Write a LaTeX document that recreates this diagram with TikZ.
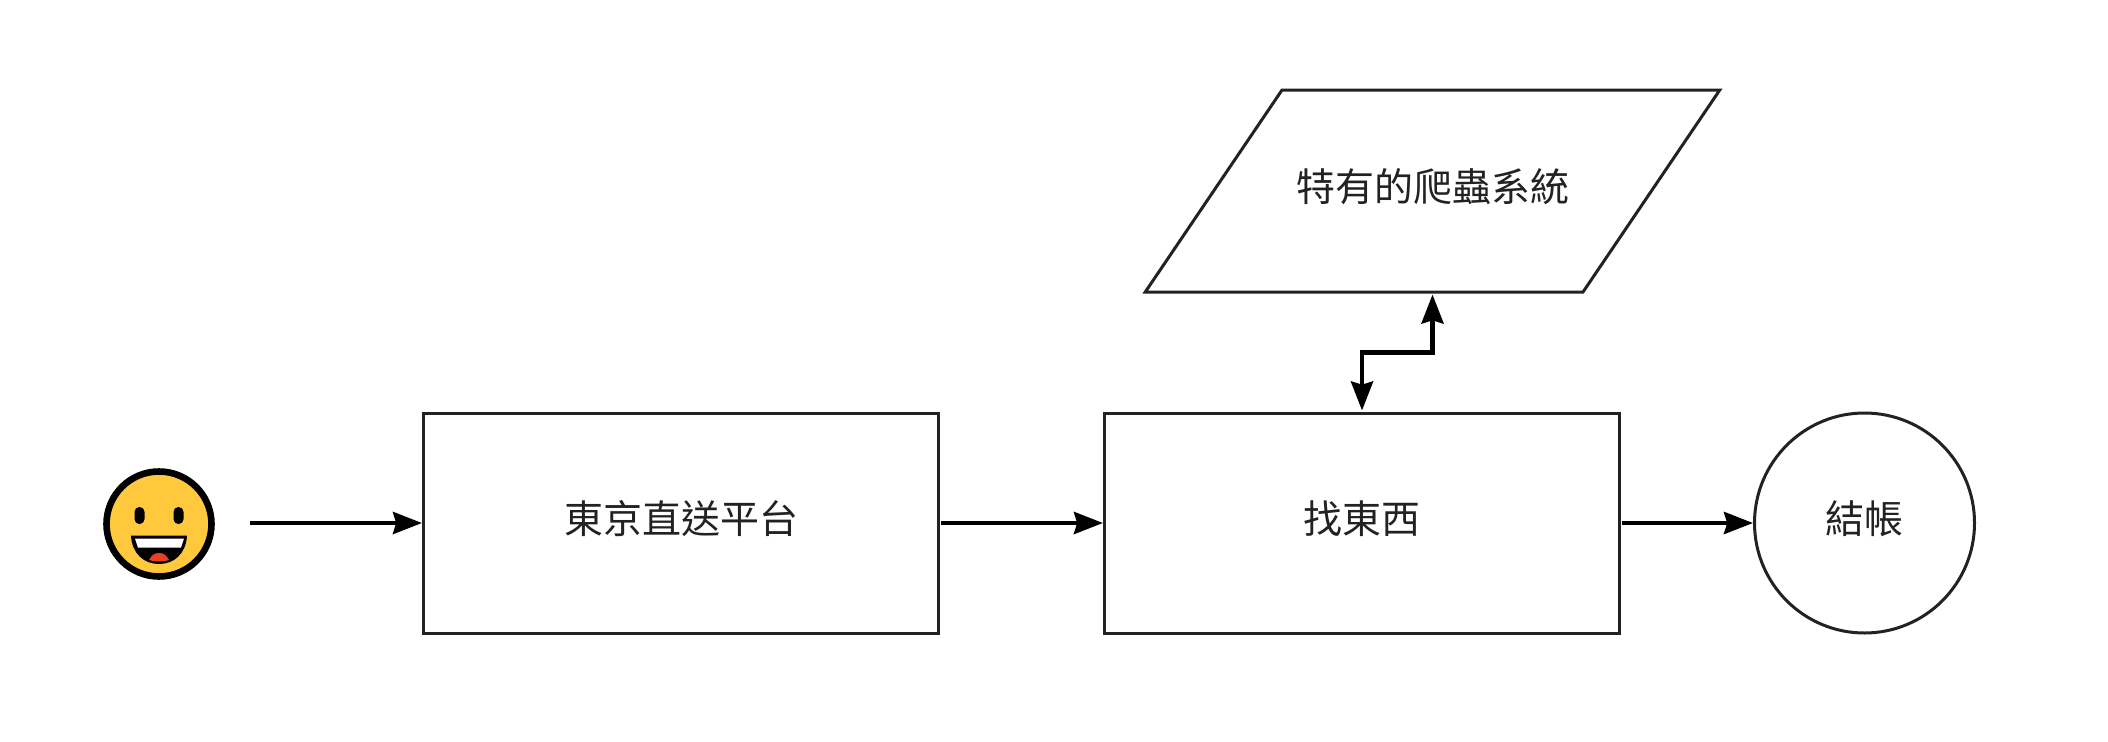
\documentclass[tikz,border=0pt]{standalone}
\usepackage{fontspec}
\setmainfont{Noto Sans CJK TC}
\usepackage{tikz}
\usetikzlibrary{calc}
\usetikzlibrary{arrows.meta}
\usetikzlibrary{shapes.geometric}
\definecolor{facecol}{HTML}{FFC83D}
\definecolor{tonguecol}{HTML}{E8401F}
\definecolor{textcol}{HTML}{222222}
\newcommand{\lab}[1]{\raisebox{-5.4pt}[0pt][0pt]{#1}}

\begin{document}
\begin{tikzpicture}[x=0.5pt,y=0.5pt]
  \tikzset{
    every node/.style={text=textcol, font=\fontsize{19.5}{24}\selectfont},
    box/.style={draw=textcol, rectangle, line width=1.5pt, minimum width=257.5pt, minimum height=110pt, inner sep=0pt},
    crawler/.style={draw=textcol, trapezium, trapezium left angle=55.9, trapezium right angle=124.1, line width=1.5pt, text width=150.5pt, text height=50.5pt, text depth=50.5pt, align=center, inner sep=0pt},
    stop/.style={draw=textcol, circle, line width=1.5pt, minimum size=110pt, inner sep=0pt, node distance=251.25pt},
    headtip/.tip={Stealth[length=14.5pt,width=11pt,inset=1.6pt]},
    line/.style={draw, line width=2.2pt, -headtip, shorten <=0.5pt},
    twoway/.style={line, headtip-headtip, shorten <=0.5pt, shorten >=0.5pt},
  }
  \useasboundingbox (0,0) rectangle (2108,741);
  \node [box] (front) at (681,218) {\lab{東京直送平台}};
  \node [box, right of = front, node distance=340.5pt] (find) {\lab{找東西}};
  \node [stop, right of = find] (pay) {\lab{結帳}};
  \node [crawler] (spider) at (1432.5,550) {\lab{特有的爬蟲系統}};
  \node [draw=black, fill=facecol, circle, line width=3.3pt, minimum size=52.5pt, inner sep=0pt] (face) at (159,217) {};
  \coordinate (start) at (249,218);

  \path [line] (start)--(front);
  \path [line] (front)--(find);
  \path [line] (find)--(pay);
  \path [twoway] (find.north) |- ($(find.north)!0.5!(spider.south)$) -| (spider.south);

  % face
  \fill [black, rounded corners=2.4pt] ($(face)+(-24.5,0)$) rectangle ($(face)+(-14.5,17)$);
  \fill [black, rounded corners=2.4pt] ($(face)+(14.5,0)$) rectangle ($(face)+(24.5,17)$);
  \fill [black] ($(face)+(-28,-11.7)$) -- ($(face)+(28,-11.7)$) .. controls ++(-1,-18) and ++(15,0) .. ($(face)+(0,-40)$) .. controls ++(-15,0) and ++(1,-18) .. ($(face)+(-28,-11.7)$) -- cycle;
  \fill [white] ($(face)+(-24,-14.5)$) -- ($(face)+(25,-14.5)$) -- ($(face)+(22,-23.5)$) -- ($(face)+(-21,-23.5)$) -- cycle;
  \fill [tonguecol] ($(face)+(-10,-36)$) .. controls ++(3,5) and ++(-5,0) .. ($(face)+(0,-29)$) .. controls ++(5,0) and ++(-3,5) .. ($(face)+(10,-36)$) .. controls ++(-6,-2) and ++(6,-2) .. ($(face)+(-10,-36)$) -- cycle;
\end{tikzpicture}
\end{document}
